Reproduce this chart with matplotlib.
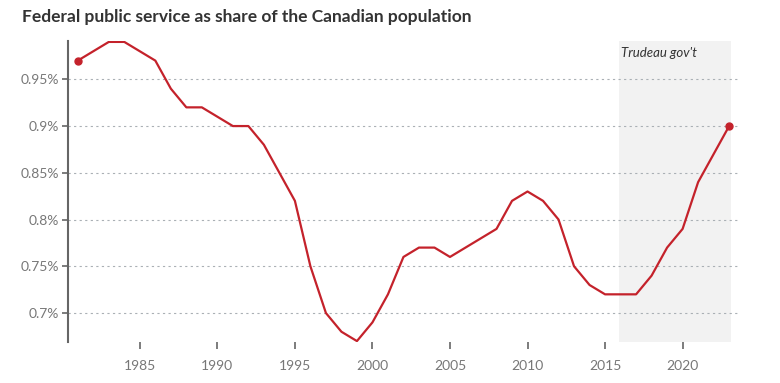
import matplotlib
matplotlib.use("Agg")
import matplotlib.pyplot as plt

years = list(range(1981, 2024))
share = [0.97, 0.98, 0.99, 0.99, 0.98, 0.97, 0.94, 0.92, 0.92, 0.91,
         0.90, 0.90, 0.88, 0.85, 0.82, 0.75, 0.70, 0.68, 0.67, 0.69,
         0.72, 0.76, 0.77, 0.77, 0.76, 0.77, 0.78, 0.79, 0.82, 0.83,
         0.82, 0.80, 0.75, 0.73, 0.72, 0.72, 0.72, 0.74, 0.77, 0.79,
         0.84, 0.87, 0.90]
yticks = [0.70, 0.75, 0.80, 0.85, 0.90, 0.95]
ytick_labels = ["0.7%", "0.75%", "0.8%", "0.85%", "0.9%", "0.95%"]
xticks = [1985, 1990, 1995, 2000, 2005, 2010, 2015, 2020]
shade_span = (2015.9, 2023.1)
shade_label = "Trudeau gov't"
title = "Federal public service as share of the Canadian population"

plt.rcParams['font.family'] = ['Lato', 'DejaVu Sans']
fig = plt.figure(figsize=(7.8, 3.83), dpi=100)
ax = fig.add_axes([0.0878, 0.107, 0.8609, 0.786])

red = "#c4222b"
ax.axvspan(shade_span[0], shade_span[1], color="#f2f2f2", zorder=0, lw=0)
ax.plot(years, share, color=red, lw=1.6, zorder=3)
ax.plot([years[0], years[-1]], [share[0], share[-1]], "o", color=red, ms=5, zorder=4)

ax.set_xlim(1980.4, 2023.7)
ax.set_ylim(0.669, 0.991)
ax.set_yticks(yticks)
ax.set_yticklabels(ytick_labels)
ax.set_xticks(xticks)
ax.set_xticklabels([str(x) for x in xticks])
ax.yaxis.grid(True, linestyle=(0, (2, 3)), color="#aab0b5", lw=0.8)
ax.set_axisbelow(True)
for s in ["top", "right", "bottom"]:
    ax.spines[s].set_visible(False)
ax.spines["left"].set_color("#666666")
ax.spines["left"].set_linewidth(1.5)
ax.tick_params(axis="y", length=4, width=1.2, color="#666666", labelcolor="#777777", labelsize=10, pad=3)
ax.tick_params(axis="x", length=5, width=1.2, color="#666666", labelcolor="#777777", labelsize=10, pad=8)

ax.text(shade_span[0] + 0.15, 0.985, shade_label, fontsize=9.5, style="italic", color="#333333", va="top", ha="left")
fig.text(22/780, 1 - 17/383, title, fontsize=12.5, fontweight="bold", color="#333333", va="center", ha="left")

fig.savefig("out.png", dpi=100)
